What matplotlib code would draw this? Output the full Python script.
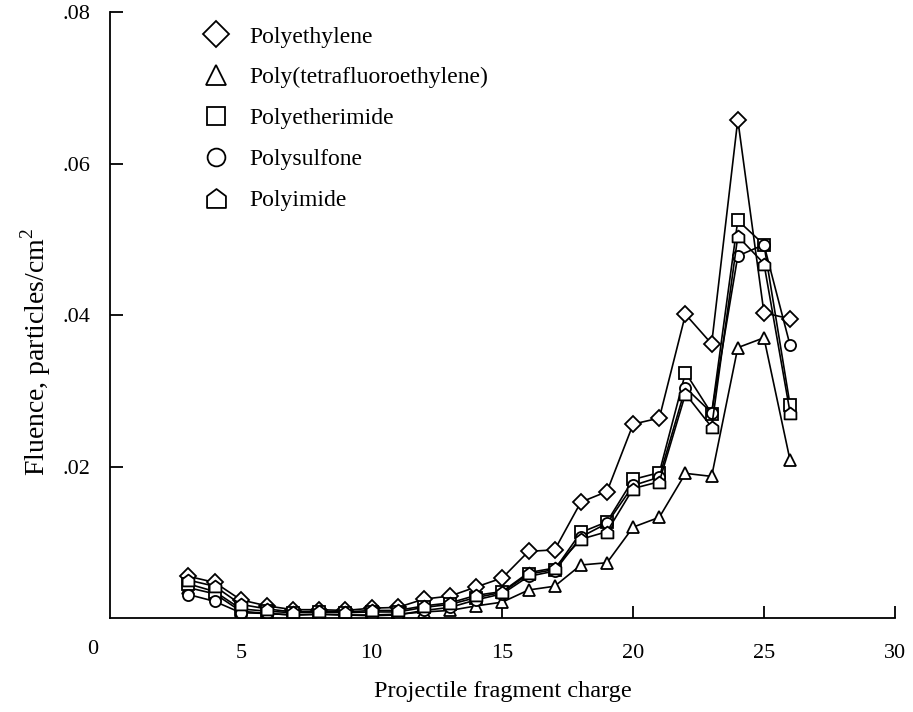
import matplotlib.pyplot as plt
import numpy as np
from matplotlib.path import Path
from matplotlib.lines import Line2D

plt.rcParams['font.family'] = 'Liberation Serif'
plt.rcParams['mathtext.fontset'] = 'custom'
plt.rcParams['mathtext.rm'] = 'Liberation Serif'

charge = np.arange(3, 27)

polyethylene = [0.0055, 0.0047, 0.0024, 0.0016, 0.0011, 0.0011, 0.0010, 0.0013,
                0.0014, 0.0025, 0.0029, 0.0041, 0.0053, 0.0088, 0.0090, 0.0153,
                0.0167, 0.0256, 0.0264, 0.0401, 0.0362, 0.0658, 0.0403, 0.0395]
ptfe = [0.0040, 0.0032, 0.0009, 0.0006, 0.0004, 0.0005, 0.0004, 0.0004,
        0.0005, 0.0008, 0.0010, 0.0016, 0.0021, 0.0037, 0.0042, 0.0070,
        0.0073, 0.0120, 0.0133, 0.0191, 0.0187, 0.0357, 0.0370, 0.0208]
polyetherimide = [0.0045, 0.0035, 0.0012, 0.0009, 0.0007, 0.0008, 0.0007, 0.0008,
                  0.0008, 0.0014, 0.0018, 0.0027, 0.0034, 0.0058, 0.0064, 0.0113,
                  0.0127, 0.0183, 0.0192, 0.0324, 0.0270, 0.0525, 0.0493, 0.0281]
polysulfone = [0.0031, 0.0022, 0.0007, 0.0006, 0.0004, 0.0005, 0.0004, 0.0003,
               0.0004, 0.0010, 0.0014, 0.0024, 0.0032, 0.0055, 0.0062, 0.0107,
               0.0125, 0.0175, 0.0186, 0.0304, 0.0271, 0.0478, 0.0493, 0.0360]
polyimide = [0.0050, 0.0042, 0.0018, 0.0012, 0.0008, 0.0009, 0.0008, 0.0010,
             0.0010, 0.0016, 0.0020, 0.0030, 0.0035, 0.0060, 0.0066, 0.0104,
             0.0114, 0.0171, 0.0180, 0.0296, 0.0252, 0.0504, 0.0468, 0.0271]

labels = ['Polyethylene', 'Poly(tetrafluoroethylene)', 'Polyetherimide',
          'Polysulfone', 'Polyimide']

# house-shaped pentagon used for polyimide
house = Path([(-1, -1), (1, -1), (1, 0.25), (0, 1), (-1, 0.25), (-1, -1)],
             [Path.MOVETO, Path.LINETO, Path.LINETO, Path.LINETO, Path.LINETO, Path.CLOSEPOLY])

series = [(polyethylene, 'D', 8.5), (ptfe, '^', 9), (polyetherimide, 's', 8),
          (polysulfone, 'o', 8), (polyimide, house, 8.5)]

fig = plt.figure(figsize=(9.13, 7.12), dpi=100)
ax = fig.add_axes([0.1205, 0.132, 0.8595, 0.851])

handles = []
for (vals, mk, ms), lab in zip(series, labels):
    ax.plot(charge, vals, color='black', lw=1.2, marker=mk, markersize=ms,
            markerfacecolor='white', markeredgecolor='black', markeredgewidth=1.3)
    handles.append(Line2D([], [], linestyle='none', marker=mk, markersize=ms * 1.6,
                          markerfacecolor='white', markeredgecolor='black',
                          markeredgewidth=1.3, label=lab))

ax.set_xlim(0, 30)
ax.set_ylim(0, 0.08)
ax.spines['top'].set_visible(False)
ax.spines['right'].set_visible(False)
ax.spines['left'].set_linewidth(1.3)
ax.spines['bottom'].set_linewidth(1.3)

ax.set_xticks([5, 10, 15, 20, 25, 30])
ax.set_xticklabels(['5', '10', '15', '20', '25', '30'])
ax.set_yticks([0.02, 0.04, 0.06, 0.08])
ax.set_yticklabels(['.02', '.04', '.06', '.08'])
ax.tick_params(direction='in', length=9, width=1.3, labelsize=16)
ax.tick_params(axis='x', pad=19)
ax.tick_params(axis='y', pad=14)
ax.text(-0.65, -0.0042, '0', fontsize=16, ha='center', va='center')

fig.text(503 / 913, 1 - 692 / 712, 'Projectile fragment charge', fontsize=17.5,
         ha='center', va='center')
fig.text(36 / 913, 1 - 352 / 712, 'Fluence, particles/cm$^{2}$', fontsize=20,
         ha='center', va='center', rotation=90)

ax.legend(handles=handles, loc='upper left', bbox_to_anchor=(0.093, 1.012), frameon=False,
          fontsize=17, handlelength=1.0, handletextpad=0.9, labelspacing=0.82)

fig.savefig('out.png', dpi=100)
